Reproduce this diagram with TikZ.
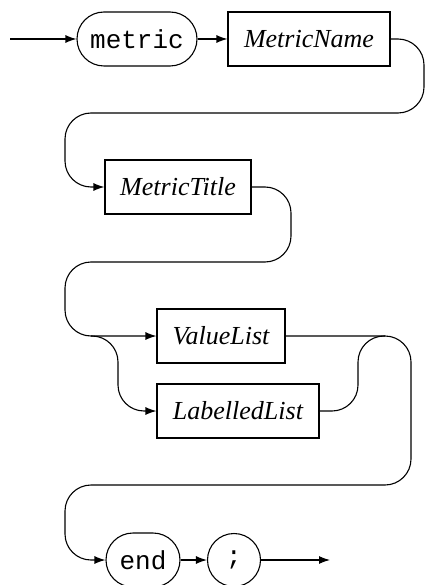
\documentclass[tikz,border=0pt]{standalone}
\usepackage{fontspec}
\setmainfont{Liberation Serif}
\setmonofont{Liberation Mono}
\usetikzlibrary{arrows.meta,shapes.misc}
\begin{document}
\begin{tikzpicture}[x=1pt,y=-1pt,
  line width=1.1pt,
  every node/.style={inner sep=0pt, line width=1.1pt},
  kw/.style={draw, rounded rectangle, minimum height=54pt, font=\fontsize{26}{30}\selectfont\ttfamily},
  nt/.style={draw, rectangle, minimum height=54pt, font=\fontsize{26}{30}\selectfont\itshape},
  arr/.style={-{Latex[length=11pt,width=8pt]}},
  rc/.style={rounded corners=26pt}]
\useasboundingbox (0,0) rectangle (425,585);
\coordinate (start) at (10,39);
\node[kw, minimum width=120pt] (metric) at (137,39) {metric};
\node[nt, minimum width=162pt] (MetricName) at (309,39) {MetricName};
\node[nt, minimum width=146pt] (MetricTitle) at (178,187) {MetricTitle};
\node[nt, minimum width=128pt] (ValueList) at (221,336) {ValueList};
\node[nt, minimum width=162pt] (LabelledList) at (238,411) {LabelledList};
\node[kw, minimum width=74pt] (end) at (143,560) {end};
\node[draw, circle, minimum size=53pt, font=\fontsize{26}{30}\selectfont\ttfamily] (semi) at (234,560) {;};
\coordinate (J) at (91,336);
\coordinate (M) at (385,336);
\coordinate (stop) at (330,560);

\draw[arr] (start) -- (metric.west);
\draw[arr] (metric.east) -- (MetricName.west);
\draw[arr,rc] (MetricName.east) -| (424,113) -- (65,113) |- (MetricTitle.west);
\draw[arr,rc] (MetricTitle.east) -| (291,262) -- (65,262) |- (ValueList.west);
\draw[arr,rc] (J) -| (118,411) -- (LabelledList.west);
\draw[rc] (LabelledList.east) -| (358,336) -- (M);
\draw[arr,rc] (ValueList.east) -| (411,485) -- (65,485) |- (end.west);
\draw[arr] (end.east) -- (semi.west);
\draw[arr] (semi.east) -- (stop);
\end{tikzpicture}
\end{document}
